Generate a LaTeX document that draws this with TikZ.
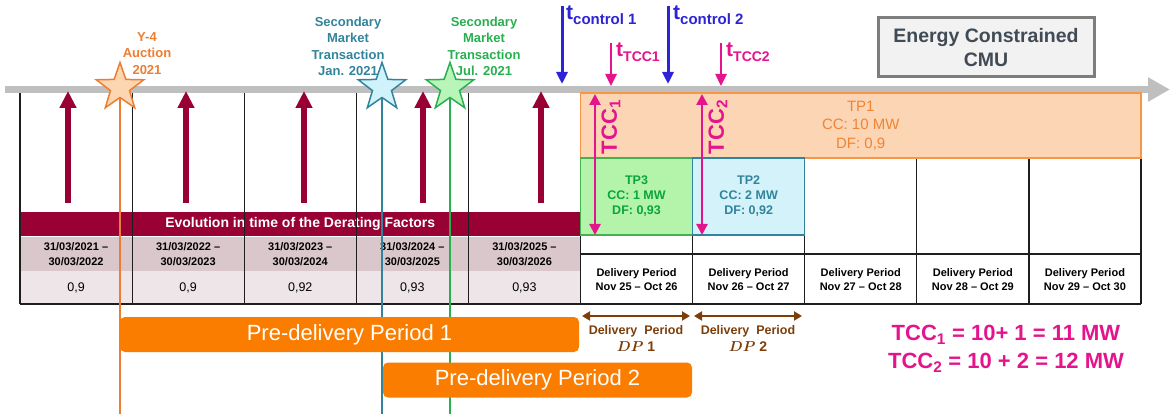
\documentclass[tikz,border=0pt]{standalone}
\usepackage{bm}
\usepackage{fontspec}
\setmainfont{Liberation Sans}
\usepackage{tikz}
\usetikzlibrary{positioning,arrows.meta,shapes.geometric}
\definecolor{tlgray}{RGB}{191,191,191}
\definecolor{dfred}{RGB}{153,0,51}
\definecolor{datefill}{RGB}{217,199,203}
\definecolor{valfill}{RGB}{237,229,231}
\definecolor{gridc}{RGB}{30,30,30}
\definecolor{auctc}{RGB}{237,125,49}
\definecolor{auctfill}{RGB}{252,214,176}
\definecolor{janc}{RGB}{49,132,155}
\definecolor{janfill}{RGB}{208,242,250}
\definecolor{julc}{RGB}{40,175,80}
\definecolor{julfill}{RGB}{185,245,185}
\definecolor{tpone}{RGB}{247,150,70}
\definecolor{tponefill}{RGB}{252,213,180}
\definecolor{tponetext}{RGB}{240,132,52}
\definecolor{tpthree}{RGB}{70,175,80}
\definecolor{tpthreefill}{RGB}{180,243,170}
\definecolor{tpthreetext}{RGB}{10,165,60}
\definecolor{tptwofill}{RGB}{212,242,250}
\definecolor{tccpink}{RGB}{228,20,140}
\definecolor{ctrlblue}{RGB}{45,35,215}
\definecolor{predelc}{RGB}{250,125,0}
\definecolor{dpbrown}{RGB}{125,62,10}
\definecolor{cmufill}{RGB}{242,242,242}
\definecolor{cmuline}{RGB}{125,125,125}
\definecolor{cmutext}{RGB}{64,75,85}
\newcommand{\fsz}[2]{\fontsize{#1}{#2}\selectfont}
\tikzset{
  timeline/.style={line width=7pt,tlgray,-{Triangle[length=22pt,width=23pt]}},
  dfarrow/.style={line width=5.5pt,dfred,-{Triangle[length=17pt,width=16pt]}},
  tablegrid/.style={gridc,line width=1.2pt},
  evoband/.style={fill=dfred,text=white,font=\fsz{14}{15}\bfseries,
    minimum width=561pt,minimum height=24.5pt,inner sep=0pt},
  datecell/.style={fill=datefill,font=\fsz{11}{14.5}\bfseries,align=center,
    minimum width=112.1pt,minimum height=33.5pt,inner sep=0pt},
  valcell/.style={fill=valfill,font=\fsz{12.5}{14},
    minimum width=112.1pt,minimum height=33pt,inner sep=0pt},
  dpcell/.style={font=\fsz{11}{13.5}\bfseries,align=center,inner sep=0pt},
  tpbox/.style={minimum width=112.1pt,minimum height=77pt,inner sep=0pt,
    line width=1.5pt,align=center,font=\fsz{12.5}{15}\bfseries},
  tponebox/.style={fill=tponefill,draw=tpone,line width=1.5pt,text=tponetext,
    minimum width=560.5pt,minimum height=65pt,inner sep=0pt,align=center,
    font=\fsz{15}{18.5}},
  markline/.style={line width=2pt},
  starmark/.style={star,star points=5,star point ratio=2.5,minimum size=50pt,
    inner sep=0pt,line width=1.5pt},
  starlbl/.style={font=\fsz{13}{16.3}\bfseries,align=center,inner sep=0pt},
  predel/.style={fill=predelc,rounded corners=5pt,text=white,font=\fsz{22}{22},
    inner sep=0pt,minimum height=35pt},
  tmark/.style={line width=3pt,-{Triangle[length=12pt,width=11pt]}},
  tlbl/.style={font=\bfseries,inner sep=0pt,anchor=base west},
  tccarrow/.style={tccpink,line width=2.5pt,
    {Triangle[length=11pt,width=11pt]}-{Triangle[length=11pt,width=11pt]}},
  tcclbl/.style={tccpink,rotate=90,font=\fsz{22}{22}\bfseries,inner sep=0pt},
  dparrow/.style={dpbrown,line width=2.5pt,
    {Triangle[length=8pt,width=9pt]}-{Triangle[length=8pt,width=9pt]}},
  dplbl/.style={dpbrown,font=\fsz{12.5}{17}\bfseries,align=center,inner sep=0pt},
  cmubox/.style={fill=cmufill,draw=cmuline,line width=3pt,text=cmutext,
    font=\fsz{19.5}{24}\bfseries,align=center,minimum width=216pt,
    minimum height=59pt,inner sep=0pt},
}

\begin{document}
\begin{tikzpicture}[x=1pt,y=-1pt]
  \useasboundingbox (0,0) rectangle (1170,414);
  \coordinate (tl0) at (5,89.5);
  \coordinate (tl1) at (1170,89.5);
  \draw[timeline] (tl0) -- (tl1);

  \node[evoband] (evo) at (300.25,224.25) {Evolution in time of the Derating Factors};
  \node[datecell] (dt1) at (76.05,254.25) {31/03/2021 --\\30/03/2022};
  \node[datecell] (dt2) at (188.15,254.25) {31/03/2022 --\\30/03/2023};
  \node[datecell] (dt3) at (300.25,254.25) {31/03/2023 --\\30/03/2024};
  \node[datecell] (dt4) at (412.35,254.25) {31/03/2024 --\\30/03/2025};
  \node[datecell] (dt5) at (524.45,254.25) {31/03/2025 --\\30/03/2026};
  \node[valcell] (dv1) at (76.05,287.5) {0,9};
  \node[valcell] (dv2) at (188.15,287.5) {0,9};
  \node[valcell] (dv3) at (300.25,287.5) {0,92};
  \node[valcell] (dv4) at (412.35,287.5) {0,93};
  \node[valcell] (dv5) at (524.45,287.5) {0,93};
  \node[dpcell] (dp1) at (636.55,279.5) {Delivery Period\\Nov 25 -- Oct 26};
  \node[dpcell] (dp2) at (748.65,279.5) {Delivery Period\\Nov 26 -- Oct 27};
  \node[dpcell] (dp3) at (860.75,279.5) {Delivery Period\\Nov 27 -- Oct 28};
  \node[dpcell] (dp4) at (972.85,279.5) {Delivery Period\\Nov 28 -- Oct 29};
  \node[dpcell] (dp5) at (1084.95,279.5) {Delivery Period\\Nov 29 -- Oct 30};

  \draw[tablegrid] (20,93)--(20,304) (132.1,93)--(132.1,304) (244.2,93)--(244.2,304)
    (356.3,93)--(356.3,304) (468.4,93)--(468.4,304) (580.5,93)--(580.5,304)
    (692.6,158)--(692.6,304) (804.7,158)--(804.7,304) (916.8,158)--(916.8,304)
    (1028.9,158)--(1028.9,304) (1141,158)--(1141,304)
    (20,304)--(1141,304) (580.5,254)--(1141,254) (692.6,158)--(1141,158);

  \node[tponebox] (tp1) at (860.75,125.5) {TP1\\CC: 10 MW\\DF: 0,9};
  \node[tpbox,fill=tpthreefill,draw=tpthree,text=tpthreetext] (tp3) at (636.55,196.5)
    {TP3\\CC: 1 MW\\DF: 0,93};
  \node[tpbox,fill=tptwofill,draw=janc,text=janc] (tp2) at (748.65,196.5)
    {TP2\\CC: 2 MW\\DF: 0,92};

  \coordinate (df1b) at (68,203);  \coordinate (df1t) at (68,91);
  \coordinate (df2b) at (186,203); \coordinate (df2t) at (186,91);
  \coordinate (df3b) at (304,203); \coordinate (df3t) at (304,91);
  \coordinate (df4b) at (423,203); \coordinate (df4t) at (423,91);
  \coordinate (df5b) at (541,203); \coordinate (df5t) at (541,91);
  \draw[dfarrow] (df1b)--(df1t);
  \draw[dfarrow] (df2b)--(df2t);
  \draw[dfarrow] (df3b)--(df3t);
  \draw[dfarrow] (df4b)--(df4t);
  \draw[dfarrow] (df5b)--(df5t);

  \coordinate (auctend) at (120,414);
  \coordinate (janend) at (382,414);
  \coordinate (julend) at (450,414);
  \coordinate (auct) at (120,87.5);
  \coordinate (jan) at (382,87.5);
  \coordinate (jul) at (450,87.5);
  \draw[markline,auctc] (auct)--(auctend);
  \draw[markline,janc] (jan)--(janend);
  \draw[markline,julc] (jul)--(julend);
  \node[starmark,draw=auctc,fill=auctfill] (auctstar) at (auct) {};
  \node[starmark,draw=janc,fill=janfill] (janstar) at (jan) {};
  \node[starmark,draw=julc,fill=julfill] (julstar) at (jul) {};
  \node[starlbl,text=auctc] (auctlbl) at (147,53.5) {Y-4\\Auction\\2021};
  \node[starlbl,text=janc] (janlbl) at (348,46.5) {Secondary\\Market\\Transaction\\Jan. 2021};
  \node[starlbl,text=julc] (jullbl) at (484,46.5) {Secondary\\Market\\Transaction\\Jul. 2021};

  \node[predel,minimum width=459pt] (pd1) at (349.5,334.5) {Pre-delivery Period 1};
  \node[predel,minimum width=309pt] (pd2) at (537.5,380) {Pre-delivery Period 2};

  \coordinate (tc1a) at (562,6);   \coordinate (tc1b) at (562,84);
  \coordinate (tc2a) at (668,6);   \coordinate (tc2b) at (668,84);
  \coordinate (tt1a) at (611,43);  \coordinate (tt1b) at (611,86);
  \coordinate (tt2a) at (721,43);  \coordinate (tt2b) at (721,86);
  \draw[tmark,ctrlblue] (tc1a)--(tc1b);
  \draw[tmark,ctrlblue] (tc2a)--(tc2b);
  \draw[tmark,tccpink,line width=2.5pt] (tt1a)--(tt1b);
  \draw[tmark,tccpink,line width=2.5pt] (tt2a)--(tt2b);
  \node[tlbl,text=ctrlblue] (tc1lbl) at (566,20)
    {{\fsz{21}{21}t}\raisebox{-5pt}{\fsz{15}{15}control 1}};
  \node[tlbl,text=ctrlblue] (tc2lbl) at (673,20)
    {{\fsz{21}{21}t}\raisebox{-5pt}{\fsz{15}{15}control 2}};
  \node[tlbl,text=tccpink] (tt1lbl) at (616,57)
    {{\fsz{21}{21}t}\raisebox{-5pt}{\fsz{14}{14}TCC1}};
  \node[tlbl,text=tccpink] (tt2lbl) at (726,57)
    {{\fsz{21}{21}t}\raisebox{-5pt}{\fsz{14}{14}TCC2}};

  \coordinate (tcc1a) at (595,94);  \coordinate (tcc1b) at (595,235);
  \coordinate (tcc2a) at (702,94);  \coordinate (tcc2b) at (702,235);
  \draw[tccarrow] (tcc1a)--(tcc1b);
  \draw[tccarrow] (tcc2a)--(tcc2b);
  \node[tcclbl] (tcc1lbl) at (611,127) {TCC\textsubscript{1}};
  \node[tcclbl] (tcc2lbl) at (718,127) {TCC\textsubscript{2}};

  \coordinate (dp1a) at (582,316);  \coordinate (dp1b) at (690,316);
  \coordinate (dp2a) at (694,316);  \coordinate (dp2b) at (802,316);
  \draw[dparrow] (dp1a)--(dp1b);
  \draw[dparrow] (dp2a)--(dp2b);
  \node[dplbl] (dpl1) at (636,338.5) {Delivery\ \ Period\\{\fsz{14}{17}$\bm{DP}\ \mathbf{1}$}};
  \node[dplbl] (dpl2) at (748,338.5) {Delivery\ \ Period\\{\fsz{14}{17}$\bm{DP}\ \mathbf{2}$}};

  \node[cmubox] (cmu) at (986,47.5) {Energy Constrained\\CMU};
  \node[tccpink,font=\fsz{22}{28}\bfseries,align=center,inner sep=0pt] (tccsum)
    at (1006,349) {TCC\textsubscript{1} = 10+ 1 = 11 MW\\TCC\textsubscript{2} = 10 + 2 = 12 MW};
\end{tikzpicture}
\end{document}
